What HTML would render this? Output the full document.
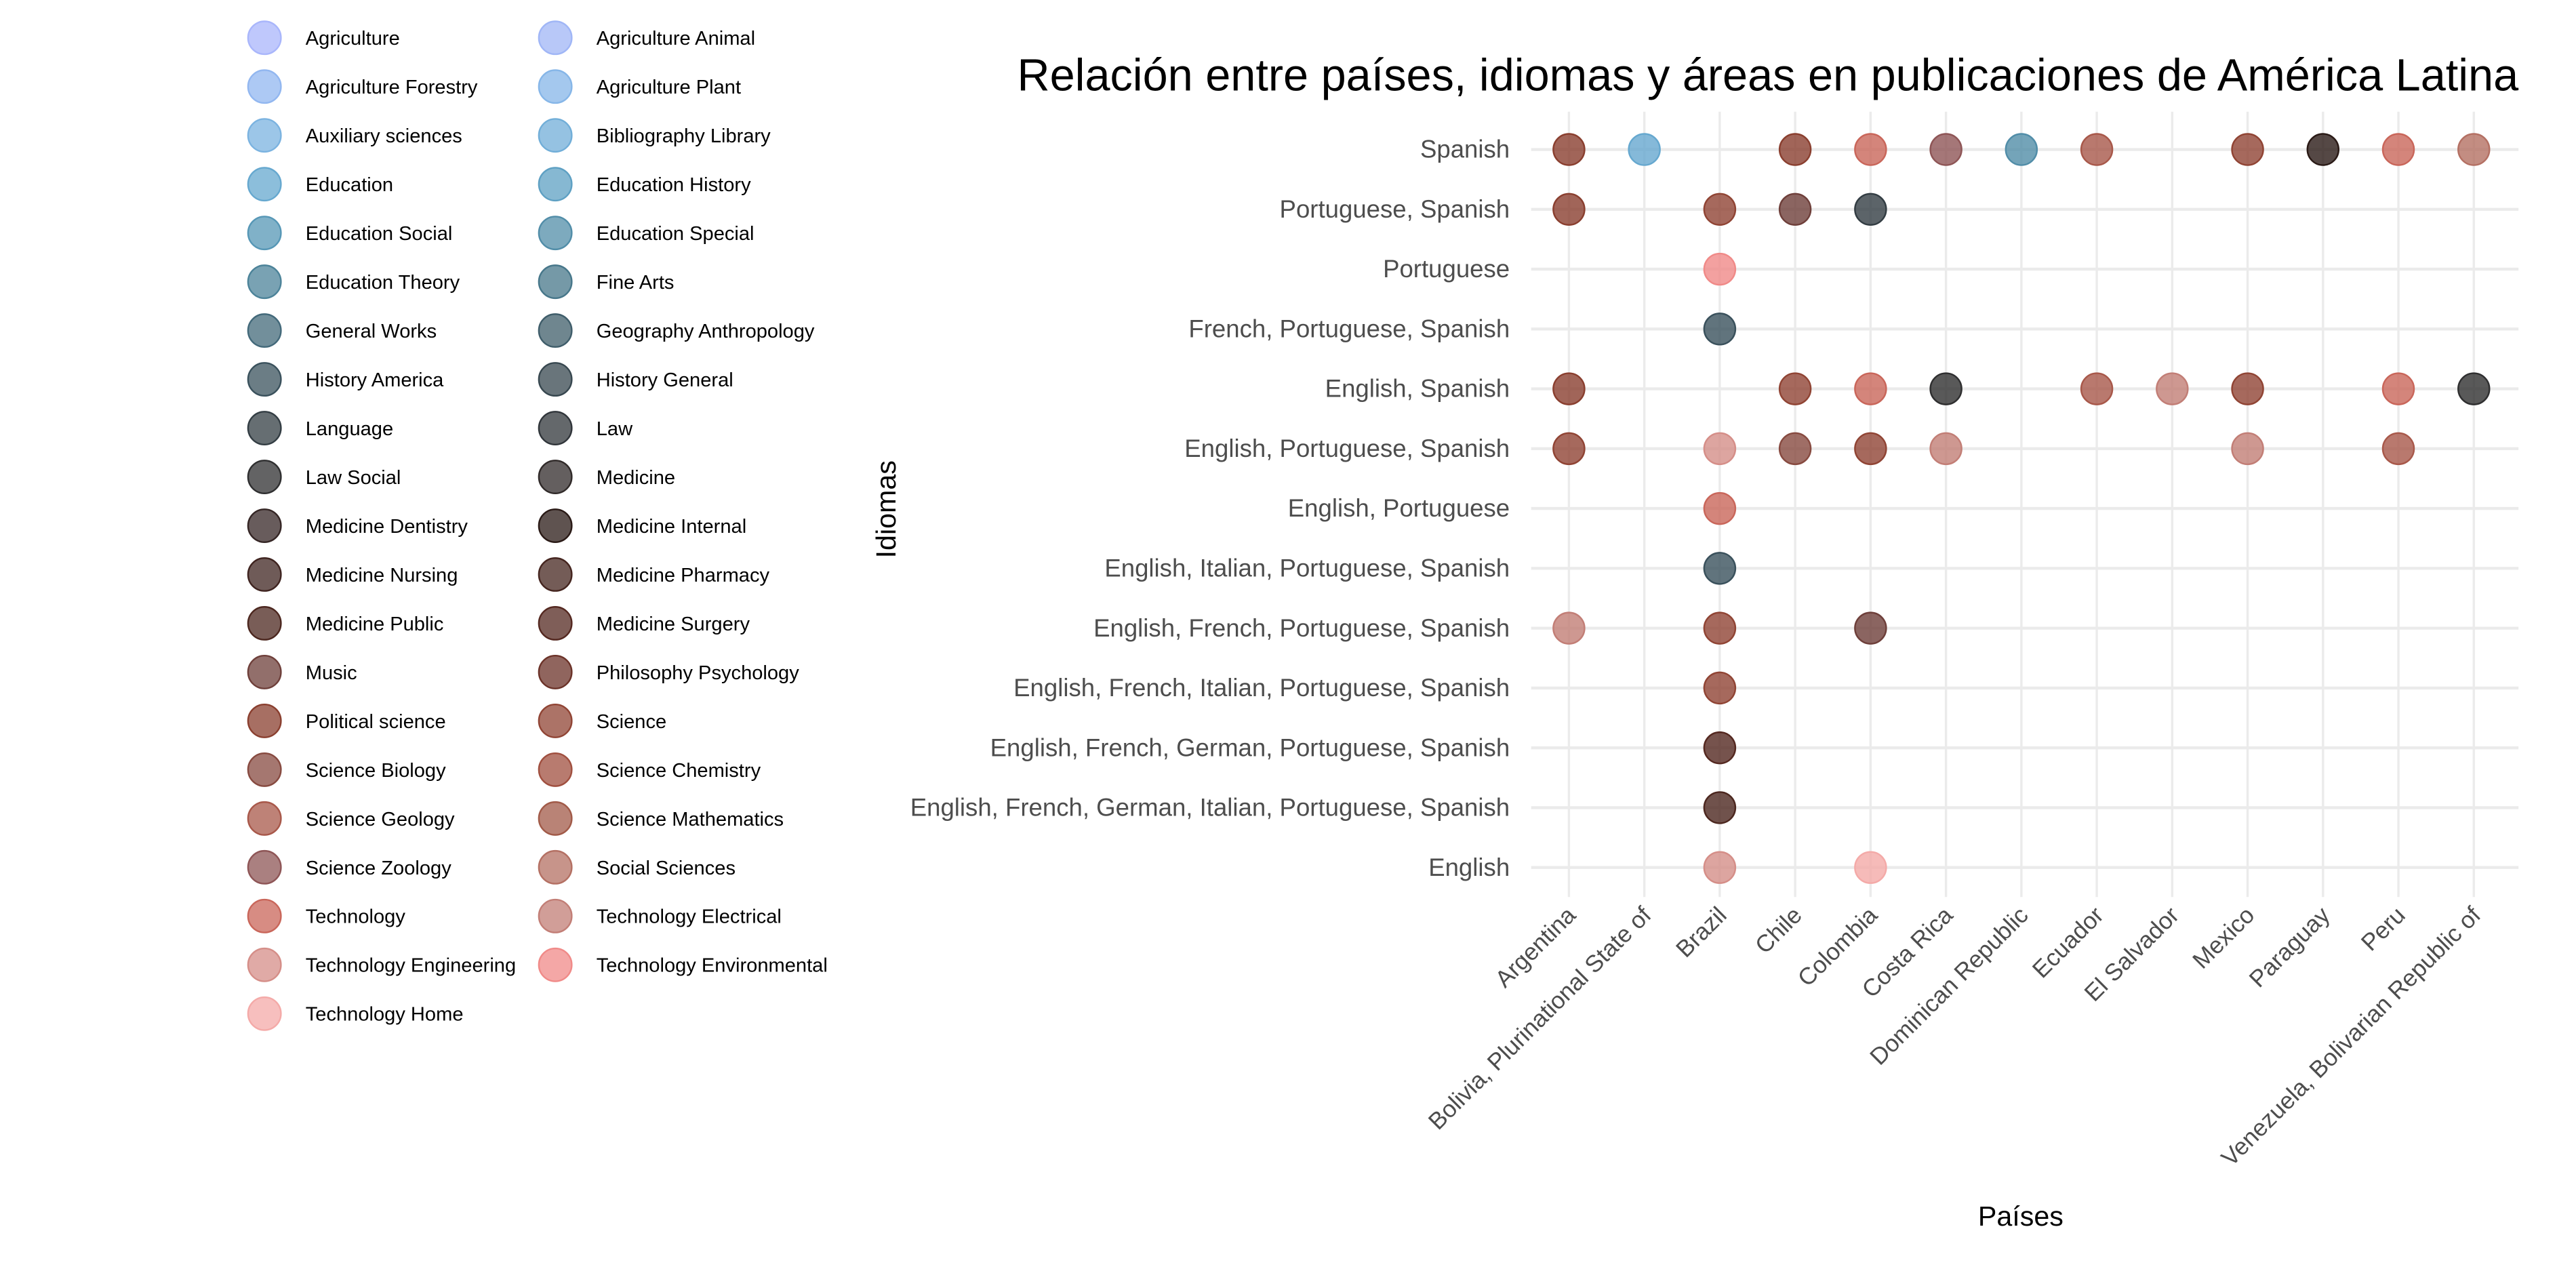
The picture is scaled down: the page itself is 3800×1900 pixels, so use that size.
<!DOCTYPE html>
<html><head><meta charset="utf-8"><style>
html,body{margin:0;padding:0;background:#fff}
svg{display:block;font-family:"Liberation Sans",Arial,sans-serif}
</style></head><body>
<svg id="chart" width="3800" height="1900" viewBox="0 0 1568 784" preserveAspectRatio="none" xmlns="http://www.w3.org/2000/svg">
<text x="1533" y="55" font-size="27.5" text-anchor="end" fill="#000">Relación entre países, idiomas y áreas en publicaciones de América Latina</text>
<text x="1230" y="746" font-size="17" text-anchor="middle" fill="#000">Países</text>
<text x="545" y="310" font-size="17" text-anchor="middle" fill="#000" transform="rotate(-90 545 310)">Idiomas</text>
<g id="grid"></g>
<g id="ylabels"></g>
<g id="xlabels"></g>
<g id="points"></g>
<g id="legend"></g>
</svg>
<script>
const countries = ["Argentina","Bolivia, Plurinational State of","Brazil","Chile","Colombia","Costa Rica","Dominican Republic","Ecuador","El Salvador","Mexico","Paraguay","Peru","Venezuela, Bolivarian Republic of"];
const languages = ["Spanish","Portuguese, Spanish","Portuguese","French, Portuguese, Spanish","English, Spanish","English, Portuguese, Spanish","English, Portuguese","English, Italian, Portuguese, Spanish","English, French, Portuguese, Spanish","English, French, Italian, Portuguese, Spanish","English, French, German, Portuguese, Spanish","English, French, German, Italian, Portuguese, Spanish","English"];
const areas = ["Agriculture","Agriculture Animal","Agriculture Forestry","Agriculture Plant","Auxiliary sciences","Bibliography Library","Education","Education History","Education Social","Education Special","Education Theory","Fine Arts","General Works","Geography Anthropology","History America","History General","Language","Law","Law Social","Medicine","Medicine Dentistry","Medicine Internal","Medicine Nursing","Medicine Pharmacy","Medicine Public","Medicine Surgery","Music","Philosophy Psychology","Political science","Science","Science Biology","Science Chemistry","Science Geology","Science Mathematics","Science Zoology","Social Sciences","Technology","Technology Electrical","Technology Engineering","Technology Environmental","Technology Home"];
const areaColors = ["#a9b6fb","#a0b6f6","#92b7f0","#86b6e8","#7bb3e0","#71aed8","#66a8cf","#5ea0c3","#5697b6","#518da8","#4c8399","#47778a","#43697a","#3f5d6a","#3a515c","#37474f","#333d43","#30353a","#2f2f30","#302a29","#352625","#2a1a16","#3f2420","#45251f","#4c271f","#542820","#6e3f3a","#6b3228","#8a3f2f","#904434","#874a40","#a04f3f","#a8584a","#a15a48","#8e5556","#b47063","#c9665a","#c27e76","#d58e88","#f08a88","#f4aaa8"];
const ptCountry = ["Argentina","Bolivia, Plurinational State of","Chile","Colombia","Costa Rica","Dominican Republic","Ecuador","Mexico","Paraguay","Peru","Venezuela, Bolivarian Republic of",
"Argentina","Brazil","Chile","Colombia","Brazil","Brazil",
"Argentina","Chile","Colombia","Costa Rica","Ecuador","El Salvador","Mexico","Peru","Venezuela, Bolivarian Republic of",
"Argentina","Brazil","Chile","Colombia","Costa Rica","Mexico","Peru",
"Brazil","Brazil","Argentina","Brazil","Colombia","Brazil","Brazil","Brazil","Brazil","Colombia"];
const ptLanguage = ["Spanish","Spanish","Spanish","Spanish","Spanish","Spanish","Spanish","Spanish","Spanish","Spanish","Spanish",
"Portuguese, Spanish","Portuguese, Spanish","Portuguese, Spanish","Portuguese, Spanish","Portuguese","French, Portuguese, Spanish",
"English, Spanish","English, Spanish","English, Spanish","English, Spanish","English, Spanish","English, Spanish","English, Spanish","English, Spanish","English, Spanish",
"English, Portuguese, Spanish","English, Portuguese, Spanish","English, Portuguese, Spanish","English, Portuguese, Spanish","English, Portuguese, Spanish","English, Portuguese, Spanish","English, Portuguese, Spanish",
"English, Portuguese","English, Italian, Portuguese, Spanish","English, French, Portuguese, Spanish","English, French, Portuguese, Spanish","English, French, Portuguese, Spanish","English, French, Italian, Portuguese, Spanish","English, French, German, Portuguese, Spanish","English, French, German, Italian, Portuguese, Spanish","English","English"];
const ptArea = ["Political science","Education","Political science","Technology","Science Zoology","Education Special","Science Geology","Science","Medicine Internal","Technology","Social Sciences",
"Political science","Science","Music","Language","Technology Environmental","History America",
"Political science","Science","Technology","Law Social","Science Geology","Technology Electrical","Science","Technology","Law Social",
"Science","Technology Engineering","Science Biology","Science","Technology Electrical","Technology Electrical","Science Geology",
"Technology","History America","Technology Electrical","Science","Music","Science","Medicine Surgery","Medicine Public","Technology Engineering","Technology Home"];

const NS="http://www.w3.org/2000/svg";
function mk(tag,attrs,parent){const e=document.createElementNS(NS,tag);for(const k in attrs)e.setAttribute(k,attrs[k]);parent.appendChild(e);return e;}
const x0=955, dx=45.9, y0=91, dy=36.42;
function xScale(c){return x0+countries.indexOf(c)*dx;}
function yScale(l){return y0+languages.indexOf(l)*dy;}
function colorOf(a){return areaColors[areas.indexOf(a)];}

const grid=document.getElementById('grid');
countries.forEach(c=>{const l=mk('line',{x1:xScale(c),x2:xScale(c),y1:68,y2:546,stroke:'#ebebeb','stroke-width':1.4},grid);

});
languages.forEach(la=>{const l=mk('line',{x1:932,x2:1533,y1:yScale(la),y2:yScale(la),stroke:'#ebebeb','stroke-width':1.8},grid);

});

const yl=document.getElementById('ylabels');
languages.forEach(la=>{const t=mk('text',{x:919,y:yScale(la)+5,'font-size':15.1,'text-anchor':'end',fill:'#4d4d4d'},yl);t.textContent=la;

});
const xl=document.getElementById('xlabels');
countries.forEach(c=>{const x=xScale(c)+5,y=558;const t=mk('text',{x:x,y:y,'font-size':14.5,'text-anchor':'end',fill:'#4d4d4d',transform:`rotate(-45 ${x} ${y})`},xl);t.textContent=c;

});

const pts=document.getElementById('points');
ptCountry.forEach((c,i)=>{const col=colorOf(ptArea[i]);const p=mk('circle',{cx:xScale(c),cy:yScale(ptLanguage[i]),r:9.5,fill:col,'fill-opacity':0.8,stroke:col,'stroke-width':1},pts);

});

const lg=document.getElementById('legend');
areas.forEach((a,i)=>{const col=i%2, row=Math.floor(i/2);const cx=col?338:161, cy=23+row*29.7;
const g=mk('g',{},lg);


mk('circle',{cx:cx,cy:cy,r:10,fill:areaColors[i],'fill-opacity':0.75,stroke:areaColors[i],'stroke-width':1},g);
const t=mk('text',{x:cx+25,y:cy+4.3,'font-size':12,fill:'#000'},g);t.textContent=a;});
</script>
</body></html>
